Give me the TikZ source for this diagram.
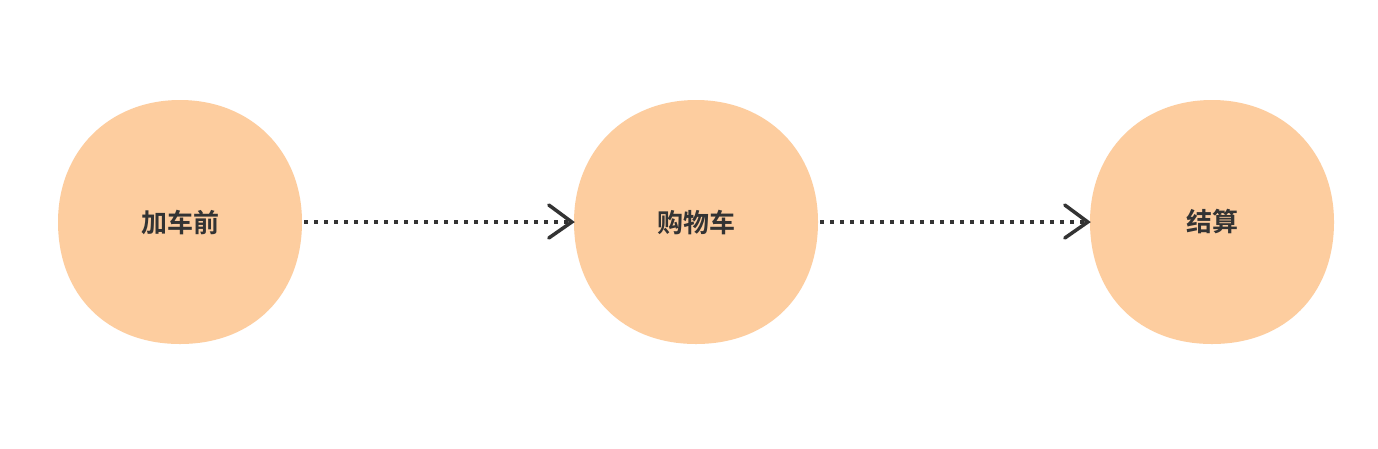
\documentclass[tikz,border=0pt]{standalone}
\usepackage{fontspec}
\newfontfamily\cjk{Noto Sans CJK SC}[BoldFont={Noto Sans CJK SC Bold}]
\definecolor{blobfill}{HTML}{FDCD9F}
\definecolor{ink}{HTML}{333333}
\tikzset{
  x=1pt, y=-1pt,
  stage/.style={circle, minimum size=244pt, inner sep=0pt, text=ink, font=\cjk\bfseries\fontsize{26}{26}\selectfont},
  flow/.style={draw=ink, line width=3.5pt, dash pattern=on 3.5pt off 6.5pt},
  chevron/.style={draw=ink, line width=3.5pt, line cap=round, line join=miter}
}
\newcommand{\blobshape}[2]{%
  \fill[blobfill] (#1,#2-122) .. controls (#1+71,#2-122) and (#1+122,#2-71) .. (#1+122,#2)
    .. controls (#1+122,#2+73) and (#1+73,#2+122) .. (#1,#2+122)
    .. controls (#1-73,#2+122) and (#1-122,#2+73) .. (#1-122,#2)
    .. controls (#1-122,#2-71) and (#1-71,#2-122) .. (#1,#2-122) -- cycle;}
\begin{document}
\begin{tikzpicture}
\useasboundingbox[fill=white] (0,0) rectangle (1378,448);
\blobshape{180}{222}
\blobshape{696}{222}
\blobshape{1212}{222}
\node[stage] (a) at (180,222) {加车前};
\node[stage] (b) at (696,222) {购物车};
\node[stage] (c) at (1212,222) {结算};
\coordinate (a1) at ([xshift=2pt]a.east);
\coordinate (b0) at ([xshift=-4pt]b.west);
\coordinate (b1) at ([xshift=2pt]b.east);
\coordinate (c0) at ([xshift=-4pt]c.west);
\draw[flow] (a1) -- (b0);
\draw[flow] (b1) -- (c0);
\draw[chevron] ([xshift=-25pt,yshift=17pt]b.west) -- ([xshift=-2pt]b.west) -- ([xshift=-25pt,yshift=-16pt]b.west);
\draw[chevron] ([xshift=-25pt,yshift=17pt]c.west) -- ([xshift=-2pt]c.west) -- ([xshift=-25pt,yshift=-16pt]c.west);
\end{tikzpicture}
\end{document}
